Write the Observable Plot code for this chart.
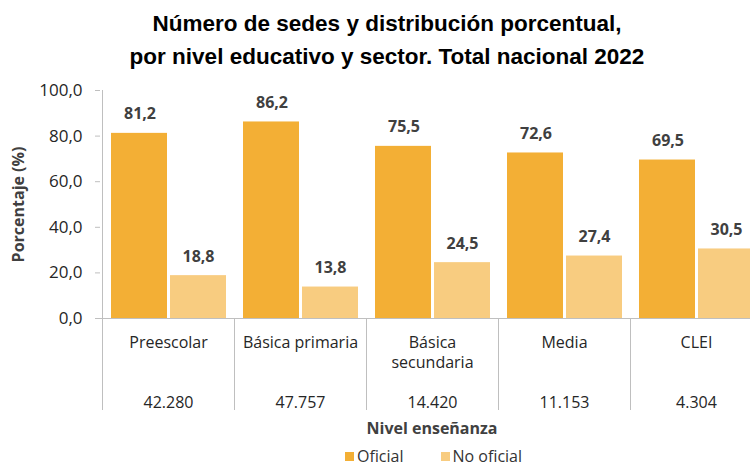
<!DOCTYPE html>
<html><head><meta charset="utf-8">
<script src="https://cdn.jsdelivr.net/npm/d3@7"></script>
<script src="https://cdn.jsdelivr.net/npm/@observablehq/plot@0.6"></script>
<style>
body{margin:0;background:#fff;width:750px;height:467px;overflow:hidden;font-family:"Open Sans",sans-serif}
#title{font-family:"Liberation Sans",Arial,sans-serif;font-weight:bold;font-size:22.5px;line-height:33px;text-align:center;padding:7px 0 0 24px;height:64px;color:#000;box-sizing:content-box}
#chart svg{display:block;overflow:hidden}
#legend{height:26px;box-sizing:border-box;padding-top:6px;padding-left:345px;text-align:left;font-size:16px;line-height:18px;color:#333;white-space:nowrap}
#legend .item{display:inline-block;margin:0 37px 0 0}
#legend .sw{display:inline-block;width:9px;height:9px;margin-right:3px;vertical-align:1px}
</style></head>
<body>
<div id="title">Número de sedes y distribución porcentual,<br>por nivel educativo y sector. Total nacional 2022</div>
<div id="chart"></div>
<div id="legend"></div>
<script>
const categories = ["Preescolar","Básica primaria","Básica secundaria","Media","CLEI"];
const tickLines = [["Preescolar"],["Básica primaria"],["Básica","secundaria"],["Media"],["CLEI"]];
const sedes = ["42.280","47.757","14.420","11.153","4.304"];
const oficial = [81.2,86.2,75.5,72.6,69.5];
const noOficial = [18.8,13.8,24.5,27.4,30.5];
const seriesNames = ["Oficial","No oficial"];
const seriesColors = ["#F3AF35","#F8CC80"];
const yTicks = [0,20,40,60,80,100];

const rowsOf = categories.map((c,i)=>({cat:c, value:oficial[i]}));
const rowsNo = categories.map((c,i)=>({cat:c, value:noOficial[i]}));
const fmt = v => v.toFixed(1).replace(".", ",");
const tickText = {};
categories.forEach((c,i)=>{
  const l = tickLines[i];
  tickText[c] = l[0] + "\n" + (l[1] || "") + "\n\n" + sedes[i];
});

function dividers(index, scales, values, dims) {
  const x = scales.x, y = scales.y;
  const g = d3.create("svg:g").attr("stroke", "#BFBFBF").attr("stroke-width", 1);
  const edges = categories.map(c => x(c));
  edges.push(x(categories[categories.length-1]) + x.bandwidth());
  const y0 = y(0);
  edges.forEach((e,i) => {
    g.append("line").attr("x1", Math.round(e)+0.5).attr("x2", Math.round(e)+0.5)
      .attr("y1", i === 0 ? y(100) : y0).attr("y2", y0 + 92);
  });
  g.append("line").attr("x1", x(categories[0]) - 5).attr("x2", edges[edges.length-1])
    .attr("y1", Math.round(y0)+0.5).attr("y2", Math.round(y0)+0.5);
  return g.node();
}

const plot = Plot.plot({
  width: 750,
  height: 370,
  marginLeft: 100,
  marginRight: -13,
  marginTop: 19,
  marginBottom: 123,
  style: {fontFamily: "'Open Sans', sans-serif", fontSize: "16px", color: "#333", overflow: "hidden"},
  x: {domain: categories, padding: 0, axis: null},
  y: {domain: [0, 100], axis: null},
  marks: [
    Plot.barY(rowsOf, {x: "cat", y: "value", fill: seriesColors[0], insetLeft: 9, insetRight: 67}),
    Plot.barY(rowsNo, {x: "cat", y: "value", fill: seriesColors[1], insetLeft: 68, insetRight: 8}),
    Plot.text(rowsOf, {x: "cat", y: "value", text: d => fmt(d.value), dx: -28.5, dy: -19, fontWeight: "bold", fontSize: 16, fill: "#404040"}),
    Plot.text(rowsNo, {x: "cat", y: "value", text: d => fmt(d.value), dx: 30, dy: -19, fontWeight: "bold", fontSize: 16, fill: "#404040"}),
    Plot.axisY({ticks: yTicks, tickFormat: fmt, tickSize: 5, tickPadding: 13, stroke: "#BFBFBF", fill: "#262626", fontSize: 17, label: null}),
    Plot.axisX({tickSize: 0, tickPadding: 15, tickFormat: d => tickText[d], fontSize: 16, lineHeight: 1.25, fill: "#262626", label: null}),
    dividers,
    Plot.text(["Nivel enseñanza"], {frameAnchor: "bottom", text: d => d, dy: 115, fontWeight: "bold", fontSize: 16, fill: "#404040"}),
    Plot.text(["Porcentaje (%)"], {frameAnchor: "left", text: d => d, rotate: -90, dx: -82, textAnchor: "middle", fontWeight: "bold", fontSize: 16, fill: "#404040"})
  ]
});
document.getElementById("chart").appendChild(plot);

const leg = document.getElementById("legend");
seriesNames.forEach((n,i)=>{
  const s = document.createElement("span"); s.className = "item";
  const sw = document.createElement("span"); sw.className = "sw"; sw.style.background = seriesColors[i];
  s.appendChild(sw); s.appendChild(document.createTextNode(n));
  leg.appendChild(s);
});
</script>
</body></html>
